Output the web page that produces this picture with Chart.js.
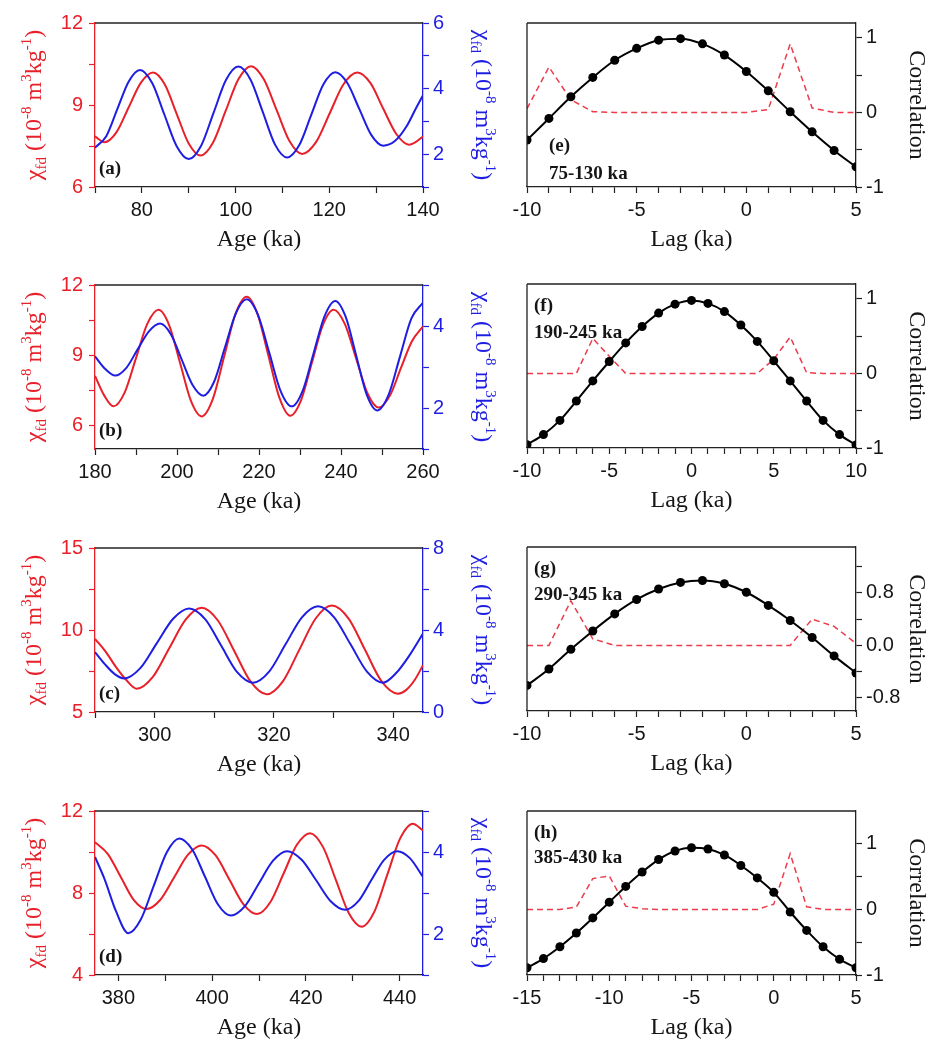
<!DOCTYPE html>
<html>
<head>
<meta charset="utf-8">
<script src="https://cdn.jsdelivr.net/npm/chart.js@4.4.0/dist/chart.umd.min.js"></script>
<style>
  body { margin: 0; background: #fff; width: 933px; height: 1046px; position: relative; overflow: hidden; }
  canvas { position: absolute; }
</style>
</head>
<body>
<canvas id="pa" width="520" height="258" style="left:0;top:0"></canvas>
<canvas id="pb" width="520" height="258" style="left:0;top:262px"></canvas>
<canvas id="pc" width="520" height="258" style="left:0;top:525px"></canvas>
<canvas id="pd" width="520" height="258" style="left:0;top:788px"></canvas>
<canvas id="pe" width="473" height="258" style="left:460px;top:0"></canvas>
<canvas id="pf" width="473" height="258" style="left:460px;top:261px"></canvas>
<canvas id="pg" width="473" height="258" style="left:460px;top:524px"></canvas>
<canvas id="ph" width="473" height="258" style="left:460px;top:788px"></canvas>
<script>
// ---- (a) 70-140 ka ----
const ageRedA = [70, 72, 74.6, 77.2, 79.8, 82.4, 84.9, 87.45, 90, 92.5, 95.2, 97.9, 100.6, 103.3, 106, 108.75, 111.5, 114.2, 117.2, 120.1, 123, 126, 128.8, 131.5, 134.3, 137, 138.5, 140];
const redA = [7.85, 7.64, 8.01, 8.92, 9.82, 10.19, 9.75, 8.67, 7.59, 7.15, 7.63, 8.79, 9.94, 10.42, 9.95, 8.82, 7.68, 7.21, 7.65, 8.7, 9.75, 10.19, 9.8, 8.87, 7.94, 7.55, 7.65, 7.85];
const ageBlueA = [70, 72.4, 74.8, 77.2, 79.6, 82.2, 84.8, 87.4, 90, 92.65, 95.3, 97.95, 100.6, 103.2, 105.8, 108.4, 111, 113.6, 116.15, 118.7, 121.3, 123.85, 126.4, 128.95, 131.5, 134, 136.5, 138.5, 140];
const blueA = [2.2, 2.55, 3.39, 4.22, 4.57, 4.17, 3.21, 2.25, 1.85, 2.26, 3.26, 4.26, 4.67, 4.27, 3.29, 2.3, 1.9, 2.28, 3.2, 4.12, 4.5, 4.17, 3.38, 2.59, 2.26, 2.4, 2.85, 3.4, 3.8];

// ---- (b) 180-260 ka ----
const ageRedB = [180, 182.2, 184.5, 187.25, 190, 192.75, 195.5, 198.1, 200.75, 203.4, 206, 208.75, 211.5, 214.25, 217, 219.65, 222.3, 224.95, 227.6, 230.25, 232.9, 235.55, 238.2, 240.95, 243.7, 246.45, 249.2, 252, 254.6, 257.3, 260];
const redB = [8.12, 7.3, 6.82, 7.42, 8.88, 10.34, 10.94, 10.28, 8.67, 7.05, 6.39, 7.14, 8.95, 10.76, 11.5, 10.76, 8.98, 7.2, 6.42, 7.08, 8.68, 10.28, 10.94, 10.33, 8.86, 7.38, 6.77, 7.3, 8.45, 9.6, 10.23];
const ageBlueB = [180, 182.5, 184.9, 187.65, 190.4, 193.15, 195.9, 198.5, 201.15, 203.8, 206.4, 209.05, 211.7, 214.35, 217, 219.75, 222.5, 225.25, 228, 230.65, 233.3, 235.95, 238.6, 241.15, 243.7, 246.25, 248.8, 251.6, 254.4, 257.2, 260];
const blueB = [3.26, 2.95, 2.79, 2.98, 3.43, 3.87, 4.06, 3.8, 3.18, 2.56, 2.3, 2.64, 3.48, 4.31, 4.65, 4.27, 3.35, 2.42, 2.04, 2.42, 3.33, 4.23, 4.61, 4.22, 3.28, 2.33, 1.94, 2.32, 3.26, 4.19, 4.57];

// ---- (c) 290-345 ka ----
const ageRedC = [290, 291.75, 293.5, 295.25, 297, 299.7, 302.45, 305.2, 307.9, 310.6, 313.35, 316.1, 318.8, 321.5, 324.25, 327, 329.7, 332.5, 335.25, 338, 340.8, 342.2, 343.6, 345];
const redC = [9.46, 8.7, 7.75, 6.95, 6.42, 7.14, 8.89, 10.63, 11.35, 10.58, 8.72, 6.85, 6.08, 6.87, 8.79, 10.7, 11.49, 10.71, 8.81, 6.9, 6.12, 6.35, 6.95, 7.85];
const ageBlueC = [290, 291.6, 293.3, 294.9, 297.6, 300.35, 303.1, 305.8, 308.5, 311.15, 313.8, 316.5, 319.2, 321.95, 324.7, 327.4, 330.1, 332.85, 335.6, 338.3, 340.5, 342.7, 345];
const blueC = [2.92, 2.35, 1.85, 1.64, 2.14, 3.35, 4.55, 5.05, 4.52, 3.24, 1.96, 1.43, 1.97, 3.3, 4.62, 5.16, 4.62, 3.3, 1.97, 1.43, 1.9, 2.75, 3.83];

// ---- (d) 375-445 ka ----
const ageRedD = [375, 377.75, 380.5, 383.25, 386, 388.95, 391.9, 394.85, 397.8, 400.75, 403.7, 406.65, 409.6, 412.4, 415.25, 418.05, 420.9, 423.65, 426.4, 429.15, 431.9, 434.6, 437.35, 440.1, 442.8, 445];
const redD = [10.48, 9.9, 8.78, 7.67, 7.22, 7.67, 8.77, 9.87, 10.32, 9.83, 8.65, 7.46, 6.97, 7.55, 8.95, 10.34, 10.92, 10.25, 8.64, 7.02, 6.35, 7.08, 8.87, 10.65, 11.38, 11.05];
const ageBlueD = [375, 377, 379.5, 382.1, 384.8, 387.55, 390.3, 393, 395.75, 398.5, 401.25, 404, 407, 410, 413, 416, 419.1, 422.2, 425.3, 428.4, 431.2, 433.95, 436.7, 439.5, 442.2, 445];
const blueD = [3.88, 3.35, 2.55, 2.02, 2.36, 3.18, 3.99, 4.33, 4.06, 3.39, 2.72, 2.45, 2.68, 3.24, 3.79, 4.02, 3.81, 3.31, 2.8, 2.59, 2.8, 3.31, 3.81, 4.02, 3.85, 3.39];

// ---- cross-correlation vs lag ----
const lagE = [-10, -9, -8, -7, -6, -5, -4, -3, -2, -1, 0, 1, 2, 3, 4, 5];
const corrE = [-0.37, -0.08, 0.21, 0.47, 0.70, 0.86, 0.97, 0.99, 0.92, 0.77, 0.55, 0.29, 0.01, -0.26, -0.51, -0.73];
const dashE = [0.05, 0.61, 0.17, 0.01, 0, 0, 0, 0, 0, 0, 0, 0.04, 0.92, 0.06, 0, 0];

const lagF = [-10, -9, -8, -7, -6, -5, -4, -3, -2, -1, 0, 1, 2, 3, 4, 5, 6, 7, 8, 9, 10];
const corrF = [-0.955, -0.82, -0.63, -0.37, -0.10, 0.16, 0.41, 0.63, 0.81, 0.93, 0.98, 0.94, 0.83, 0.65, 0.43, 0.17, -0.10, -0.37, -0.63, -0.82, -0.96];
const dashF = [0, 0, 0, 0, 0.47, 0.23, 0, 0, 0, 0, 0, 0, 0, 0, 0, 0.19, 0.49, 0.01, 0, 0, 0];

const lagG = [-10, -9, -8, -7, -6, -5, -4, -3, -2, -1, 0, 1, 2, 3, 4, 5];
const corrG = [-0.61, -0.36, -0.06, 0.22, 0.48, 0.70, 0.86, 0.96, 0.99, 0.94, 0.81, 0.61, 0.38, 0.12, -0.16, -0.42];
const dashG = [0, 0, 0.68, 0.10, 0, 0, 0, 0, 0, 0, 0, 0, 0, 0.40, 0.29, 0.03];

const lagH = [-15, -14, -13, -12, -11, -10, -9, -8, -7, -6, -5, -4, -3, -2, -1, 0, 1, 2, 3, 4, 5];
const corrH = [-0.89, -0.75, -0.57, -0.36, -0.13, 0.11, 0.35, 0.57, 0.76, 0.89, 0.94, 0.92, 0.83, 0.67, 0.48, 0.26, -0.04, -0.32, -0.57, -0.76, -0.89];
const dashH = [0, 0, 0, 0.035, 0.47, 0.51, 0.05, 0.01, 0, 0, 0, 0, 0, 0, 0, 0.08, 0.85, 0.04, 0, 0, 0];

// ---- axis ticks (all marks / labelled ones) ----
const xTicksA = [70, 80, 90, 100, 110, 120, 130, 140], xLabA = [80, 100, 120, 140];
const xTicksB = [180, 190, 200, 210, 220, 230, 240, 250, 260], xLabB = [180, 200, 220, 240, 260];
const xTicksC = [290, 300, 310, 320, 330, 340], xLabC = [300, 320, 340];
const xTicksD = [380, 390, 400, 410, 420, 430, 440], xLabD = [380, 400, 420, 440];
const redTicksA = [6, 7.5, 9, 10.5, 12], redLabA = [6, 9, 12];
const blueTicksA = [1, 2, 3, 4, 5, 6], blueLabA = [2, 4, 6];
const redTicksB = [6, 7.5, 9, 10.5, 12], redLabB = [6, 9, 12];
const blueTicksB = [1, 2, 3, 4, 5], blueLabB = [2, 4];
const redTicksC = [5, 7.5, 10, 12.5, 15], redLabC = [5, 10, 15];
const blueTicksC = [0, 2, 4, 6, 8], blueLabC = [0, 4, 8];
const redTicksD = [4, 6, 8, 10, 12], redLabD = [4, 8, 12];
const blueTicksD = [1, 2, 3, 4, 5], blueLabD = [2, 4];
const lagTicksE = lagE, lagLabE = [-10, -5, 0, 5];
const lagTicksF = lagF, lagLabF = [-10, -5, 0, 5, 10];
const lagTicksG = lagG, lagLabG = [-10, -5, 0, 5];
const lagTicksH = lagH, lagLabH = [-15, -10, -5, 0, 5];
const corrTicks = [-1, -0.5, 0, 0.5, 1], corrLab = [-1, 0, 1];
const corrTicksG = [-0.8, -0.4, 0, 0.4, 0.8, 1.2], corrLabG = [-0.8, 0, 0.8];

const RED = '#e8202a', BLUE = '#1d1de3', DASH = '#ec3b4a', INK = '#151515';
const SANS = '"Liberation Sans", Arial, sans-serif';
const SERIF = '"Liberation Serif", "Times New Roman", serif';

const chiTitle = [
  { t: 'χ' }, { t: 'fd', sub: true }, { t: ' (10' }, { t: '-8', sup: true },
  { t: ' m' }, { t: '3', sup: true }, { t: 'kg' }, { t: '-1', sup: true }, { t: ')' }
];

function pts(xs, ys) { return xs.map((x, i) => ({ x: x, y: ys[i] })); }

function fixTicks(list) {
  return s => { s.ticks = list.map(v => ({ value: v })); };
}

function fixSize(prop, px) {
  return s => {
    s[prop] = px;
    s.paddingLeft = s.paddingRight = s.paddingTop = s.paddingBottom = 0;
  };
}

function axis(pos, min, max, ticks, labels, color, size, pad, dec) {
  const line = color === RED || color === BLUE ? color : '#222';
  return {
    type: 'linear', position: pos, min: min, max: max,
    afterBuildTicks: fixTicks(ticks),
    afterFit: fixSize(pos === 'bottom' ? 'height' : 'width', size),
    border: { color: line, width: 1.3 },
    grid: { drawOnChartArea: false, drawTicks: true, tickLength: 6, tickColor: line, tickWidth: 1.2 },
    ticks: {
      autoSkip: false, maxRotation: 0, minRotation: 0, padding: pad, color: color,
      font: { family: SANS, size: 20 },
      callback: v => labels.includes(v) ? (dec ? v.toFixed(dec) : String(v)) : ''
    }
  };
}

// rotated text with sub/superscripts, centred on (cx, cy)
function richText(ctx, parts, cx, cy, angle, size, color) {
  const small = Math.round(size * 0.62);
  const fontOf = p => (p.sub || p.sup ? small : size) + 'px ' + SERIF;
  ctx.save();
  ctx.translate(cx, cy);
  ctx.rotate(angle);
  ctx.fillStyle = color;
  ctx.textAlign = 'left';
  ctx.textBaseline = 'alphabetic';
  let w = 0;
  parts.forEach(p => { ctx.font = fontOf(p); w += ctx.measureText(p.t).width; });
  let x = -w / 2;
  const base = size * 0.33;
  parts.forEach(p => {
    ctx.font = fontOf(p);
    const dy = p.sup ? -size * 0.42 : (p.sub ? size * 0.2 : 0);
    ctx.fillText(p.t, x, base + dy);
    x += ctx.measureText(p.t).width;
  });
  ctx.restore();
}

const decor = {
  id: 'decor',
  afterDraw(chart, args, o) {
    const { ctx, chartArea: a } = chart;
    const midY = (a.top + a.bottom) / 2;
    ctx.save();
    ctx.strokeStyle = '#222';
    ctx.lineWidth = 1.3;
    ctx.beginPath();
    ctx.moveTo(a.left, a.top);
    ctx.lineTo(a.right, a.top);
    if (o.leftLine) {
      ctx.moveTo(a.left, a.top);
      ctx.lineTo(a.left, a.bottom);
    }
    ctx.stroke();

    ctx.fillStyle = INK;
    ctx.font = '24px ' + SERIF;
    ctx.textAlign = 'center';
    ctx.textBaseline = 'middle';
    ctx.fillText(o.xTitle, (a.left + a.right) / 2, a.bottom + 53);

    (o.titles || []).forEach(t => richText(ctx, t.parts, t.x, midY + (t.dy || 0), t.angle, 24, t.color));

    ctx.font = 'bold 19px ' + SERIF;
    ctx.textAlign = 'left';
    ctx.textBaseline = 'alphabetic';
    ctx.fillStyle = INK;
    (o.tags || []).forEach(t => ctx.fillText(t.t, a.left + t.dx, a.top + t.dy));
    ctx.restore();
  }
};

function ageChart(id, redX, redY, blueX, blueY, xr, xt, xl, rr, rt, rl, br, bt, bl, tag) {
  new Chart(document.getElementById(id), {
    type: 'line',
    data: {
      datasets: [
        { data: pts(blueX, blueY), yAxisID: 'yR', borderColor: BLUE, borderWidth: 2, pointRadius: 0, cubicInterpolationMode: 'monotone', fill: false },
        { data: pts(redX, redY), yAxisID: 'yL', borderColor: RED, borderWidth: 2, pointRadius: 0, cubicInterpolationMode: 'monotone', fill: false }
      ]
    },
    options: {
      responsive: false, animation: false,
      layout: { padding: { top: 23, left: 0, right: 0, bottom: 0 } },
      plugins: {
        legend: { display: false }, tooltip: { enabled: false },
        decor: {
          xTitle: 'Age (ka)',
          titles: [
            { parts: chiTitle, x: 33, angle: -Math.PI / 2, color: RED },
            { parts: chiTitle, x: 484, angle: Math.PI / 2, color: BLUE }
          ],
          tags: [{ t: tag, dx: 4, dy: 151 }]
        }
      },
      scales: {
        x: axis('bottom', xr[0], xr[1], xt, xl, INK, 71, 5),
        yL: axis('left', rr[0], rr[1], rt, rl, RED, 95, 6),
        yR: axis('right', br[0], br[1], bt, bl, BLUE, 97, 4)
      }
    },
    plugins: [decor]
  });
}

function lagChart(id, lag, corr, dash, xt, xl, yr, yt, yl, dec, tag, range, tx) {
  new Chart(document.getElementById(id), {
    type: 'line',
    data: {
      datasets: [
        { data: pts(lag, corr), yAxisID: 'y', borderColor: '#000', borderWidth: 2, pointRadius: 4.5, pointBackgroundColor: '#000', pointBorderColor: '#000', pointBorderWidth: 0, cubicInterpolationMode: 'monotone', fill: false },
        { data: pts(lag, dash), yAxisID: 'y', borderColor: DASH, borderWidth: 1.5, borderDash: [6, 4], pointRadius: 0, tension: 0, fill: false }
      ]
    },
    options: {
      responsive: false, animation: false,
      layout: { padding: { top: 23, left: 67, right: 0, bottom: 0 } },
      plugins: {
        legend: { display: false }, tooltip: { enabled: false },
        decor: {
          leftLine: true,
          xTitle: 'Lag (ka)',
          titles: [{ parts: [{ t: 'Correlation' }], x: 458, angle: Math.PI / 2, color: INK }],
          tags: [{ t: tag, dx: tx, dy: range[0] }, { t: range[2], dx: tx, dy: range[1] }]
        }
      },
      scales: {
        x: axis('bottom', lag[0], lag[lag.length - 1], xt, xl, INK, 71, 5),
        y: axis('right', yr[0], yr[1], yt, yl, INK, 77, 4, dec)
      }
    },
    plugins: [decor]
  });
}

ageChart('pa', ageRedA, redA, ageBlueA, blueA, [70, 140], xTicksA, xLabA, [6, 12], redTicksA, redLabA, [1, 6], blueTicksA, blueLabA, '(a)');
ageChart('pb', ageRedB, redB, ageBlueB, blueB, [180, 260], xTicksB, xLabB, [5, 12], redTicksB, redLabB, [1, 5], blueTicksB, blueLabB, '(b)');
ageChart('pc', ageRedC, redC, ageBlueC, blueC, [290, 345], xTicksC, xLabC, [5, 15], redTicksC, redLabC, [0, 8], blueTicksC, blueLabC, '(c)');
ageChart('pd', ageRedD, redD, ageBlueD, blueD, [375, 445], xTicksD, xLabD, [4, 12], redTicksD, redLabD, [1, 5], blueTicksD, blueLabD, '(d)');

lagChart('pe', lagE, corrE, dashE, lagTicksE, lagLabE, [-1, 1.2], corrTicks, corrLab, 0, '(e)', [128, 156, '75-130 ka'], 22);
lagChart('pf', lagF, corrF, dashF, lagTicksF, lagLabF, [-1, 1.2], corrTicks, corrLab, 0, '(f)', [27, 54, '190-245 ka'], 7);
lagChart('pg', lagG, corrG, dashG, lagTicksG, lagLabG, [-1, 1.5], corrTicksG, corrLabG, 1, '(g)', [27, 53, '290-345 ka'], 7);
lagChart('ph', lagH, corrH, dashH, lagTicksH, lagLabH, [-1, 1.5], corrTicks, corrLab, 0, '(h)', [27, 52, '385-430 ka'], 7);
</script>
</body>
</html>
